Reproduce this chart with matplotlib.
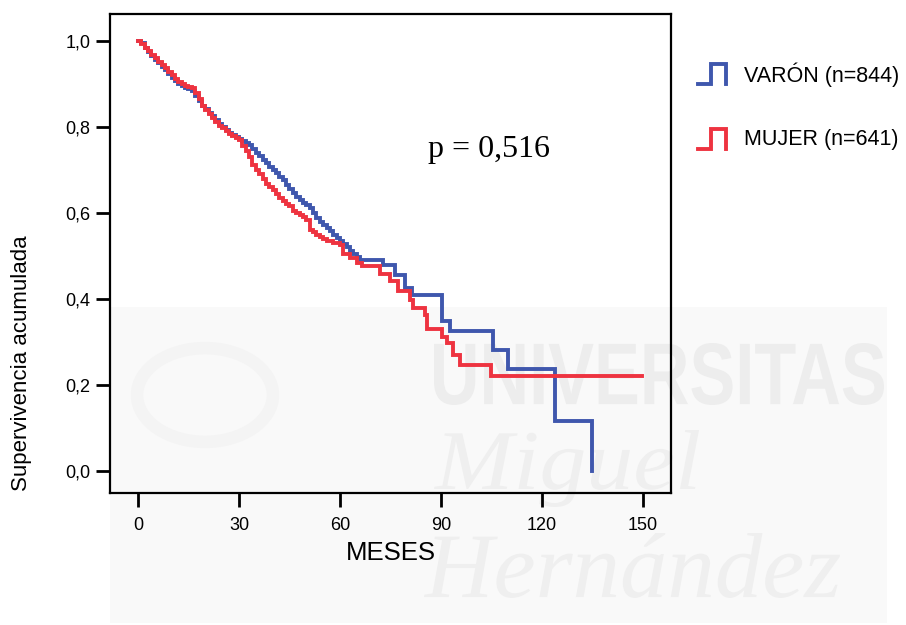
import matplotlib
matplotlib.use("Agg")
import matplotlib.pyplot as plt
from matplotlib.lines import Line2D
from matplotlib.patches import PathPatch, Rectangle, Circle
from matplotlib.textpath import TextPath
from matplotlib.font_manager import FontProperties
from matplotlib.transforms import Affine2D

# Kaplan-Meier curves (months, cumulative survival)
varon_t = [0, 1, 2, 3, 4, 5, 6, 7, 8, 9, 10, 11, 12, 13, 14, 15, 16, 17, 18, 19,
           20, 21, 22, 23, 24, 25, 26, 27, 28, 29, 30, 31, 32, 33, 34, 35, 36, 37,
           38, 39, 40, 41, 42, 43, 44, 45, 46, 47, 48, 49, 50, 51, 52, 53, 54, 55,
           56, 57, 58, 59, 60, 61, 62, 63, 64, 65, 66,
           72.9, 76.3, 79.3, 81.3, 90.2, 92.7, 105.5, 110, 123.9, 134.9]
varon_s = [1.0, 0.995, 0.985, 0.975, 0.966, 0.957, 0.948, 0.940, 0.932, 0.924,
           0.915, 0.908, 0.900, 0.896, 0.892, 0.888, 0.884, 0.872, 0.860, 0.850,
           0.842, 0.833, 0.825, 0.816, 0.808, 0.800, 0.793, 0.787, 0.782, 0.778,
           0.772, 0.768, 0.763, 0.758, 0.748, 0.740, 0.732, 0.724, 0.716, 0.708,
           0.700, 0.693, 0.685, 0.676, 0.665, 0.655, 0.647, 0.638, 0.630, 0.623,
           0.618, 0.612, 0.600, 0.588, 0.580, 0.572, 0.565, 0.558, 0.550, 0.543,
           0.535, 0.528, 0.520, 0.512, 0.505, 0.498, 0.492,
           0.480, 0.457, 0.426, 0.410, 0.348, 0.325, 0.282, 0.237, 0.117, 0.0]

mujer_t = [0, 1, 2, 3, 4, 5, 6, 7, 8, 9, 10, 11, 12, 13, 14, 15, 16, 17, 18, 19,
           20, 21, 22, 23, 24, 25, 26, 27, 28, 29, 30, 31, 32, 33, 34, 35, 36, 37,
           38, 39, 40, 41, 42, 43, 44, 45, 46, 47, 48, 49, 50, 51, 52, 53, 54, 55,
           56, 58, 60, 61, 63, 65, 66.4,
           71.9, 74.9, 77.3, 80.8, 81.8, 85.2, 85.7, 90.2, 91.7, 93.7, 95.6, 104.8, 149.8]
mujer_s = [1.0, 0.993, 0.985, 0.976, 0.968, 0.960, 0.952, 0.945, 0.937, 0.928,
           0.920, 0.912, 0.905, 0.900, 0.896, 0.893, 0.890, 0.880, 0.865, 0.850,
           0.840, 0.830, 0.822, 0.812, 0.803, 0.797, 0.791, 0.785, 0.779, 0.775,
           0.770, 0.755, 0.745, 0.730, 0.712, 0.700, 0.690, 0.680, 0.668, 0.660,
           0.653, 0.645, 0.635, 0.628, 0.622, 0.617, 0.605, 0.600, 0.595, 0.590,
           0.585, 0.560, 0.555, 0.550, 0.545, 0.540, 0.535, 0.530, 0.525, 0.505,
           0.495, 0.485, 0.476,
           0.458, 0.441, 0.418, 0.399, 0.379, 0.364, 0.330, 0.312, 0.297, 0.270,
           0.247, 0.221, 0.221]

x_ticks = [0, 30, 60, 90, 120, 150]
y_ticks = [0.0, 0.2, 0.4, 0.6, 0.8, 1.0]
y_ticklabels = ["0,0", "0,2", "0,4", "0,6", "0,8", "1,0"]
labels = ["VARÓN (n=844)", "MUJER (n=641)"]
p_text = "p = 0,516"

BLUE = "#3f57ad"
RED = "#ee3340"
W, H = 906, 625
NARROW = ["Liberation Sans Narrow", "Liberation Sans", "DejaVu Sans"]

fig = plt.figure(figsize=(W / 100, H / 100), dpi=100)
fig.patch.set_facecolor("white")


def fx(px):
    return px / W


def fy(py):
    return 1 - py / H


# faint "Universitas Miguel Hernández" watermark behind everything
def watermark(s, box, prop, color):
    x0, y0, x1, y1 = box
    path = TextPath((0, 0), s, size=100, prop=prop)
    ext = path.get_extents()
    tr = (Affine2D().translate(-ext.x0, -ext.y0)
          .scale((x1 - x0) / ext.width, (y1 - y0) / ext.height)
          .translate(x0, H - y1))
    patch = PathPatch(path, transform=tr, facecolor=color, edgecolor="none", zorder=-5)
    fig.add_artist(patch)


fig.add_artist(Rectangle((fx(110), fy(623)), fx(777), 316 / H, transform=fig.transFigure,
                         facecolor="#f9f9f9", edgecolor="none", zorder=-6))
fig.add_artist(Circle((fx(205), fy(395)), 0.075, transform=fig.transFigure,
                      facecolor="none", edgecolor="#f4f4f4", lw=9, zorder=-5))
watermark("UNIVERSITAS", (434, 343, 884, 405),
          FontProperties(family="Liberation Sans", weight="bold"), "#ededed")
watermark("Miguel", (434, 430, 699, 507),
          FontProperties(family="Liberation Serif", style="italic"), "#efefef")
watermark("Hernández", (424, 533, 840, 598),
          FontProperties(family="Liberation Serif", style="italic"), "#efefef")

ax = fig.add_axes([fx(110), fy(493), fx(671) - fx(110), fy(14) - fy(493)])
ax.patch.set_alpha(0)

ax.plot(varon_t, varon_s, drawstyle="steps-post", color=BLUE, lw=2.8,
        solid_joinstyle="miter")
ax.plot(mujer_t, mujer_s, drawstyle="steps-post", color=RED, lw=2.8,
        solid_joinstyle="miter")

ax.set_xlim(-8.3, 158.3)
ax.set_ylim(-0.051, 1.063)
ax.set_xticks(x_ticks)
ax.set_xticklabels([str(v) for v in x_ticks], family=NARROW, fontsize=13)
ax.set_yticks(y_ticks)
ax.set_yticklabels(y_ticklabels, family=NARROW, fontsize=13)
ax.tick_params(axis="both", direction="out", length=10, width=2, color="black")
ax.tick_params(axis="x", pad=7)
ax.tick_params(axis="y", pad=4)
for sp in ax.spines.values():
    sp.set_linewidth(1.6)

ax.set_xlabel("MESES", family=NARROW, fontsize=18.5, labelpad=5)
fig.text(fx(22), fy(363), "Supervivencia acumulada", rotation=90, ha="center",
         va="center", family=NARROW, fontsize=16)

fig.text(fx(428), fy(150), p_text, fontsize=23, family="Liberation Serif", va="center")

# legend drawn by hand: small step glyph plus label
for i, (lab, col) in enumerate(zip(labels, [BLUE, RED])):
    yb = 84 + i * 65
    yt = yb - 20
    fig.add_artist(Line2D([fx(698), fx(711), fx(711), fx(726), fx(726)],
                          [fy(yb), fy(yb), fy(yt), fy(yt), fy(yb)],
                          transform=fig.transFigure, color=col, lw=2.8,
                          solid_joinstyle="miter"))
    fig.text(fx(744), fy(yb - 9), lab, family=NARROW, fontsize=15.5, va="center")

fig.savefig("out.png", dpi=100)
